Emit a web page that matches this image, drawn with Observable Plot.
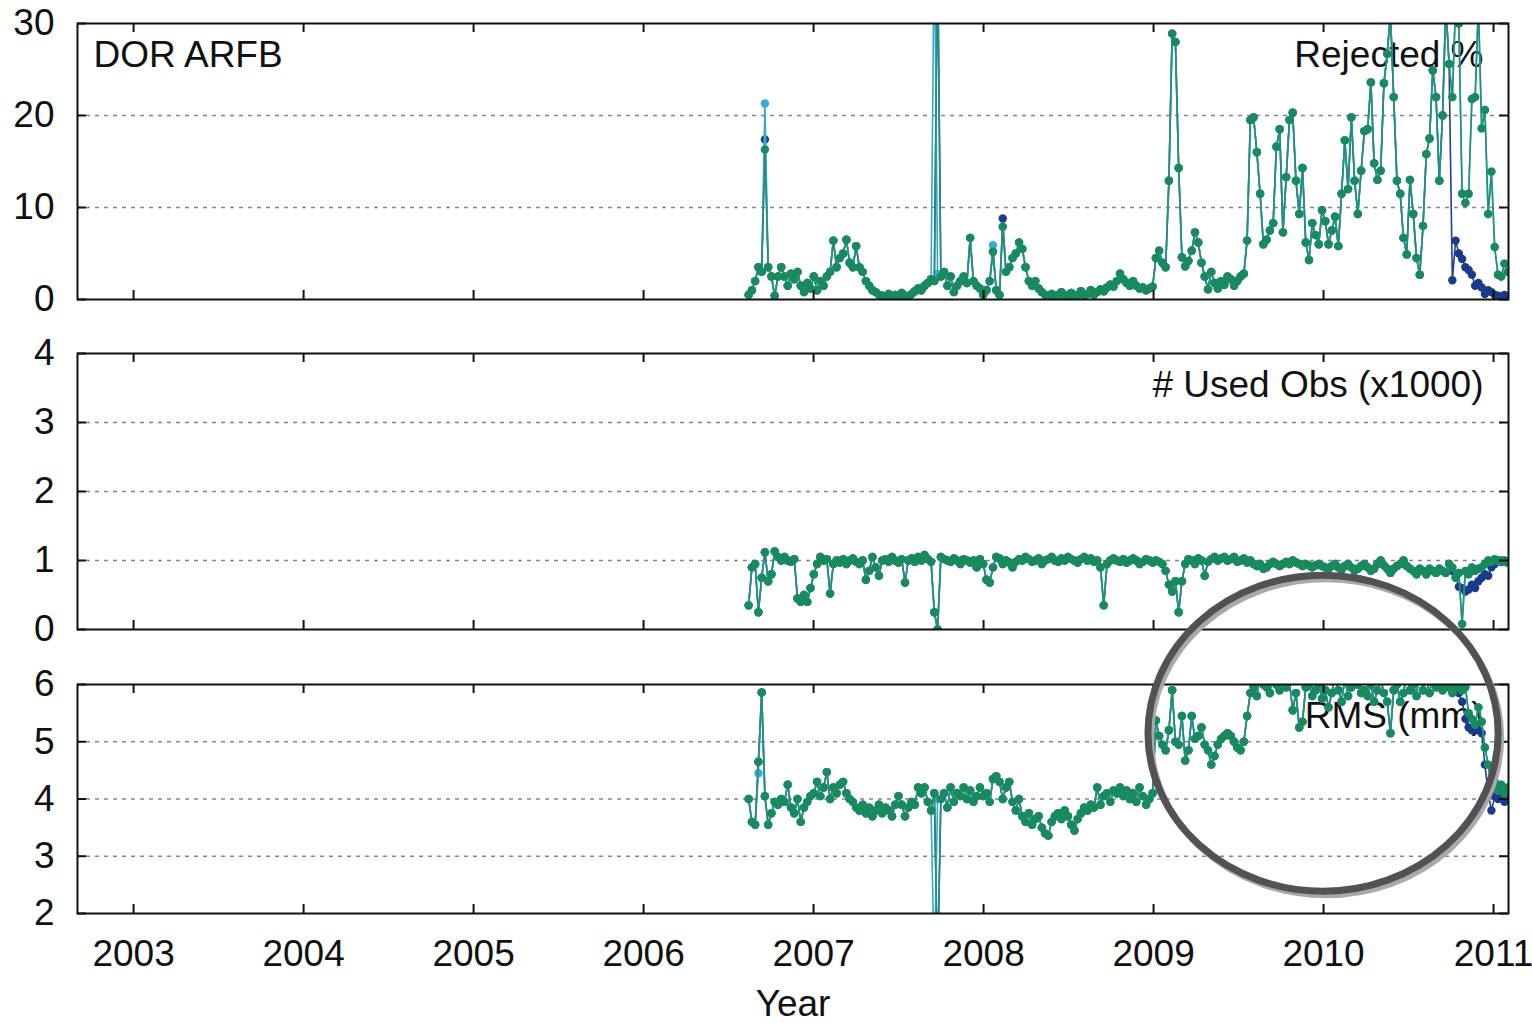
<!DOCTYPE html>
<html>
<head>
<meta charset="utf-8">
<script src="https://cdn.jsdelivr.net/npm/d3@7"></script>
<script src="https://cdn.jsdelivr.net/npm/@observablehq/plot@0.6"></script>
<style>
  html, body { margin: 0; padding: 0; background: #fff; }
  #chart { position: relative; width: 1532px; height: 1023px; }
  #chart > svg { position: absolute; left: 0; overflow: visible; }
</style>
</head>
<body>
<div id="chart"></div>
<script>
// ---------- axes / categories ----------
const yearTicks = [2003, 2004, 2005, 2006, 2007, 2008, 2009, 2010, 2011];
const xDomain = [2002.67, 2011.088];
const startYear = 2006.618;          // first weekly solution
const weekYears = 7 / 365.25;        // weekly spacing

const rejectedTicks = [0, 10, 20, 30];
const usedObsTicks = [0, 1, 2, 3, 4];
const rmsTicks = [2, 3, 4, 5, 6];

// ---------- Rejected % (main, green series) ----------
const rejected = [
  0.5,1.0,2.0,3.5,3.0,16.3,3.5,2.5,0.4,2.5,3.5,2.5,1.5,2.8,2.2,3.0,1.5,0.8,1.8,1.2,2.5,
  1.0,2.0,1.5,2.5,3.0,6.4,3.5,4.5,5.0,6.5,4.0,3.5,5.8,3.5,3.0,2.0,1.5,1.0,0.8,0.5,
  0.4,0.3,0.6,0.2,0.5,0.3,0.7,0.4,0.1,0.6,0.9,1.2,1.0,1.5,1.8,2.2,2.0,38,2.5,3.0,
  1.5,2.5,0.8,1.5,2.0,2.5,1.8,6.7,2.0,1.5,1.2,0.5,1.0,2.0,5.2,1.0,0.5,7.9,3.0,3.5,
  4.5,5.0,6.2,5.5,3.5,2.0,1.5,2.0,1.2,0.8,0.5,0.3,0.6,0.2,0.5,0.8,0.3,0.5,0.7,0.2,
  0.5,0.9,0.4,0.6,1.0,0.5,0.8,1.1,0.9,1.3,1.6,1.4,2.0,2.8,2.2,1.8,1.5,2.0,1.5,1.2,
  1.3,1.0,1.2,1.4,4.5,5.3,4.0,3.5,12.9,28.9,28.0,14.3,4.6,3.6,4.2,5.3,7.3,6.2,4.0,2.5,
  1.1,3.0,1.8,1.2,2.0,1.6,2.5,2.2,1.5,2.0,2.5,2.8,6.4,19.5,19.8,16.0,11.5,6.0,6.5,7.5,
  8.3,16.6,18.5,7.3,13.3,19.5,20.3,12.9,9.3,14.3,6.2,4.3,8.3,7.0,6.0,9.7,8.5,6.0,7.5,9.0,
  5.8,11.5,17.3,12.0,19.8,12.9,9.3,14.0,18.3,18.5,23.6,14.8,13.0,14.0,23.5,26.7,31,22.0,12.9,11.5,
  6.7,4.9,13.0,9.3,4.5,2.7,8.0,15.8,17.5,24.9,22.0,12.9,20.0,32,25.6,22.0,32,30,11.5,10.5,
  11.5,21.8,22.0,32,18.6,20.6,9.3,13.9,5.7,2.7,2.5,3.9,3.0
];
const rejectedCyanIdx = [5, 57, 58, 75];
const rejectedCyanVal = [21.3, 40, 2.8, 5.9];
const rejectedDarkIdx = [5, 78];
const rejectedDarkVal = [17.4, 8.8];
const darkStart = 216;
const rejectedDarkTail = [2.1,6.4,5.0,4.4,3.5,3.2,2.7,1.5,1.8,1.3,0.6,1.0,0.8,0.5,0.4,0.3,0.5,0.3];

// ---------- # Used Obs (x1000) ----------
const usedObs = [
  0.35,0.9,0.95,0.25,0.75,1.12,0.7,0.8,1.13,1.05,1.0,1.05,1.0,0.98,1.02,0.45,0.4,0.5,0.4,0.6,0.8,
  0.95,1.05,1.0,1.02,0.52,0.95,1.0,0.97,1.02,0.95,1.0,1.03,0.98,0.95,1.0,0.72,0.85,1.05,0.9,0.78,
  1.0,1.02,0.98,1.05,1.0,0.97,1.02,0.68,1.0,1.03,0.98,1.05,1.0,1.08,1.02,0.98,0.25,0.0,1.05,1.02,
  1.0,0.98,1.03,1.0,0.95,1.02,1.0,0.97,1.0,0.9,1.02,0.95,0.72,0.68,0.9,1.05,1.03,0.95,1.0,0.97,
  0.9,0.98,1.02,1.0,1.05,1.02,0.98,1.0,1.03,0.95,1.0,1.02,1.05,1.0,0.98,1.03,1.0,1.05,1.02,1.0,
  0.97,1.02,1.05,1.0,1.03,0.98,1.0,0.9,0.35,0.95,1.0,1.03,1.0,0.98,1.02,0.97,1.0,1.03,1.0,0.95,
  0.98,1.02,1.0,0.97,1.0,0.98,0.95,0.85,0.65,0.55,0.7,0.25,0.7,0.95,1.02,1.0,0.95,1.03,1.0,0.78,
  0.98,1.02,1.05,1.0,1.03,1.05,1.0,1.02,1.05,0.98,1.0,1.03,0.97,1.0,0.95,0.92,0.95,0.88,0.9,0.95,
  0.98,0.95,0.92,0.95,0.98,0.95,1.0,0.97,0.95,0.92,0.95,0.93,0.9,0.93,0.95,0.92,0.9,0.88,0.92,0.95,
  0.9,0.87,0.92,0.95,0.9,0.85,0.88,0.92,0.95,0.9,0.85,0.88,0.95,1.0,0.93,0.88,0.82,0.88,0.92,0.95,
  1.0,0.92,0.88,0.85,0.8,0.88,0.85,0.8,0.88,0.85,0.82,0.88,0.85,0.82,0.95,0.9,0.75,0.82,0.08,0.85,
  0.8,0.9,0.85,0.88,0.9,0.95,1.0,0.98,1.02,1.0,1.0,0.98,0.97
];
const usedObsDarkTail = [0.85,0.8,0.62,0.6,0.55,0.58,0.65,0.6,0.7,0.75,0.8,0.78,0.9,0.95,1.0,0.98,1.0,0.97];

// ---------- RMS (mm) ----------
const rms = [
  4.0,3.6,3.55,4.65,5.86,4.05,3.55,3.75,3.95,3.9,4.0,3.95,4.25,3.85,3.75,4.0,3.6,3.85,3.95,4.05,4.1,
  4.3,4.05,4.2,4.47,4.0,4.2,4.1,4.25,4.3,4.1,4.0,3.95,3.85,3.8,3.9,3.75,3.85,3.7,3.8,3.9,
  3.75,3.85,3.8,3.7,3.9,4.05,3.9,3.7,3.85,3.95,3.9,4.2,4.1,4.2,3.95,3.8,4.1,1.0,4.0,4.1,
  3.85,4.2,3.95,4.1,4.05,4.2,4.0,4.15,3.95,4.05,4.2,4.05,4.1,3.95,4.35,4.4,4.3,4.0,4.2,4.3,
  3.95,3.8,4.0,3.7,3.6,3.75,3.55,3.65,3.7,3.5,3.4,3.36,3.6,3.7,3.75,3.65,3.8,3.7,3.55,3.45,
  3.65,3.75,3.85,3.8,3.9,3.85,4.2,3.9,4.05,4.1,3.95,4.15,4.1,4.2,4.05,4.15,4.0,4.1,3.95,4.2,
  4.05,3.9,4.0,4.1,5.37,5.1,4.95,4.85,5.2,5.9,5.0,4.95,5.45,4.67,4.85,5.45,5.05,5.1,5.25,4.95,
  4.85,4.6,4.75,4.95,5.05,5.1,5.15,5.1,5.0,4.9,4.85,5.0,5.45,5.85,5.95,5.8,6.2,6.0,5.95,5.85,
  6.3,6.0,5.9,6.2,5.95,6.05,5.55,5.85,5.25,5.35,5.95,6.0,5.8,5.9,6.0,5.75,5.9,5.6,5.85,6.2,
  5.9,5.7,6.1,5.8,5.95,6.3,6.0,5.85,5.9,5.8,6.0,5.7,5.9,6.1,5.85,5.7,5.15,5.9,6.0,5.7,
  5.85,6.2,5.9,6.0,5.8,6.3,5.9,6.1,5.85,6.2,5.95,6.0,5.9,6.0,5.95,5.85,5.95,6.0,5.9,5.95,
  5.5,5.4,5.3,5.6,5.35,4.9,4.6,4.2,4.3,4.15,4.25,4.1,4.2
];
const rmsCyanIdx = [3, 57, 58];
const rmsCyanVal = [4.45, 1.0, 4.0];
const rmsDarkTail = [5.95,5.9,5.85,5.7,5.4,5.25,5.2,5.3,5.2,5.15,4.6,4.1,3.8,4.05,4.0,4.1,3.95,4.0];

// highlight ring (annotation), in data units of the RMS panel
const highlight = { year: 2010.0, rms: 5.14, halfYears: 1.03, halfRms: 2.76 };

// ---------- helpers ----------
const COLORS = {
  greenLine: "#22907a", greenDot: "#188a5b",
  cyanLine: "#35a8cf", cyanDot: "#3aaad8",
  darkLine: "#1f3f92", darkDot: "#1a3a8a"
};
function toRows(values) {
  return values.map((v, i) => ({ t: startYear + i * weekYears, v }));
}
function patched(base, idx = [], vals = [], tail = null) {
  const a = base.slice();
  idx.forEach((k, j) => { a[k] = vals[j]; });
  if (tail) tail.forEach((v, j) => { a[darkStart + j] = v; });
  return a;
}

const FONT = "'Liberation Sans', Arial, Helvetica, sans-serif";
const FS = 37;
const W = 1532, ML = 77, MR = 24, MT = 23;
const FRAME_W = W - ML - MR;

function panel({ frameH, marginBottom, yDomain, ticks, green, cyan, dark, labelRight, labelLeft, xLabels }) {
  const grid = ticks.slice(1, -1);
  const marks = [
    Plot.ruleY(grid, { y: d => d, stroke: "#858585", strokeWidth: 1.4, strokeDasharray: "4,5" }),
    Plot.text([labelRight], { text: d => d, frameAnchor: "top-right", dx: -25, dy: 17, lineAnchor: "top", textAnchor: "end", fontSize: FS, fill: "#111" })
  ];
  if (labelLeft) {
    marks.push(Plot.text([labelLeft], { text: d => d, frameAnchor: "top-left", dx: 16, dy: 17, lineAnchor: "top", textAnchor: "start", fontSize: FS, fill: "#111" }));
  }
  const series = [
    { data: toRows(dark), line: COLORS.darkLine, dot: COLORS.darkDot },
    { data: toRows(cyan), line: COLORS.cyanLine, dot: COLORS.cyanDot },
    { data: toRows(green), line: COLORS.greenLine, dot: COLORS.greenDot }
  ];
  for (const s of series) {
    marks.push(Plot.line(s.data, { x: "t", y: "v", stroke: s.line, strokeWidth: 1.6, clip: true }));
    marks.push(Plot.dot(s.data, { x: "t", y: "v", r: 4.2, fill: s.dot, stroke: "none", clip: true }));
  }
  marks.push(
    Plot.frame({ stroke: "#111", strokeWidth: 2 }),
    Plot.tickX(yearTicks, { x: d => d, insetTop: frameH - 9, stroke: "#111", strokeWidth: 2 }),
    Plot.tickX(yearTicks, { x: d => d, insetBottom: frameH - 9, stroke: "#111", strokeWidth: 2 }),
    Plot.tickY(ticks, { y: d => d, insetRight: FRAME_W - 9, stroke: "#111", strokeWidth: 2 }),
    Plot.tickY(ticks, { y: d => d, insetLeft: FRAME_W - 9, stroke: "#111", strokeWidth: 2 }),
    Plot.axisY(ticks, { tickSize: 0, tickPadding: 23, tickFormat: d => String(d), fontSize: FS, label: null, fill: "#111" })
  );
  if (xLabels) {
    marks.push(
      Plot.axisX(yearTicks, { tickSize: 0, tickPadding: 26, tickFormat: d => String(d), fontSize: FS, label: null, fill: "#111" }),
      Plot.text(["Year"], { text: d => d, frameAnchor: "bottom", dy: 91, lineAnchor: "middle", fontSize: FS, fill: "#111" })
    );
  }
  return Plot.plot({
    width: W,
    height: MT + frameH + marginBottom,
    marginLeft: ML, marginRight: MR, marginTop: MT, marginBottom,
    x: { domain: xDomain, axis: null },
    y: { domain: yDomain, axis: null },
    style: { fontFamily: FONT, fontSize: FS + "px", background: "transparent", overflow: "visible", color: "#111" },
    marks
  });
}

const chart = document.getElementById("chart");

const p1 = panel({
  frameH: 276, marginBottom: 10, yDomain: [0, 30], ticks: rejectedTicks,
  green: rejected,
  cyan: patched(rejected, rejectedCyanIdx, rejectedCyanVal),
  dark: patched(rejected, rejectedDarkIdx, rejectedDarkVal, rejectedDarkTail),
  labelRight: "Rejected %", labelLeft: "DOR ARFB"
});
p1.style.top = "0px";
chart.appendChild(p1);

const p2 = panel({
  frameH: 276, marginBottom: 10, yDomain: [0, 4], ticks: usedObsTicks,
  green: usedObs,
  cyan: usedObs.slice(),
  dark: patched(usedObs, [], [], usedObsDarkTail),
  labelRight: "# Used Obs (x1000)"
});
p2.style.top = "330px";
chart.appendChild(p2);

const p3 = panel({
  frameH: 229, marginBottom: 110, yDomain: [2, 6], ticks: rmsTicks,
  green: rms,
  cyan: patched(rms, rmsCyanIdx, rmsCyanVal),
  dark: patched(rms, [], [], rmsDarkTail),
  labelRight: "RMS (mm)", xLabels: true
});
p3.style.top = "661px";
chart.appendChild(p3);

// annotation ring drawn with the RMS panel's own scales
const sx = p3.scale("x"), sy = p3.scale("y");
const cx = sx.apply(highlight.year), cy = sy.apply(highlight.rms);
const rx = Math.abs(sx.apply(highlight.year + highlight.halfYears) - cx);
const ry = Math.abs(sy.apply(highlight.rms + highlight.halfRms) - cy);
const g = d3.select(p3).append("g").attr("pointer-events", "none");
g.append("ellipse").attr("cx", cx + 3).attr("cy", cy + 4).attr("rx", rx).attr("ry", ry)
  .attr("fill", "none").attr("stroke", "#a9a9ab").attr("stroke-width", 6);
g.append("ellipse").attr("cx", cx).attr("cy", cy).attr("rx", rx).attr("ry", ry)
  .attr("fill", "none").attr("stroke", "#525254").attr("stroke-width", 7);
</script>
</body>
</html>
